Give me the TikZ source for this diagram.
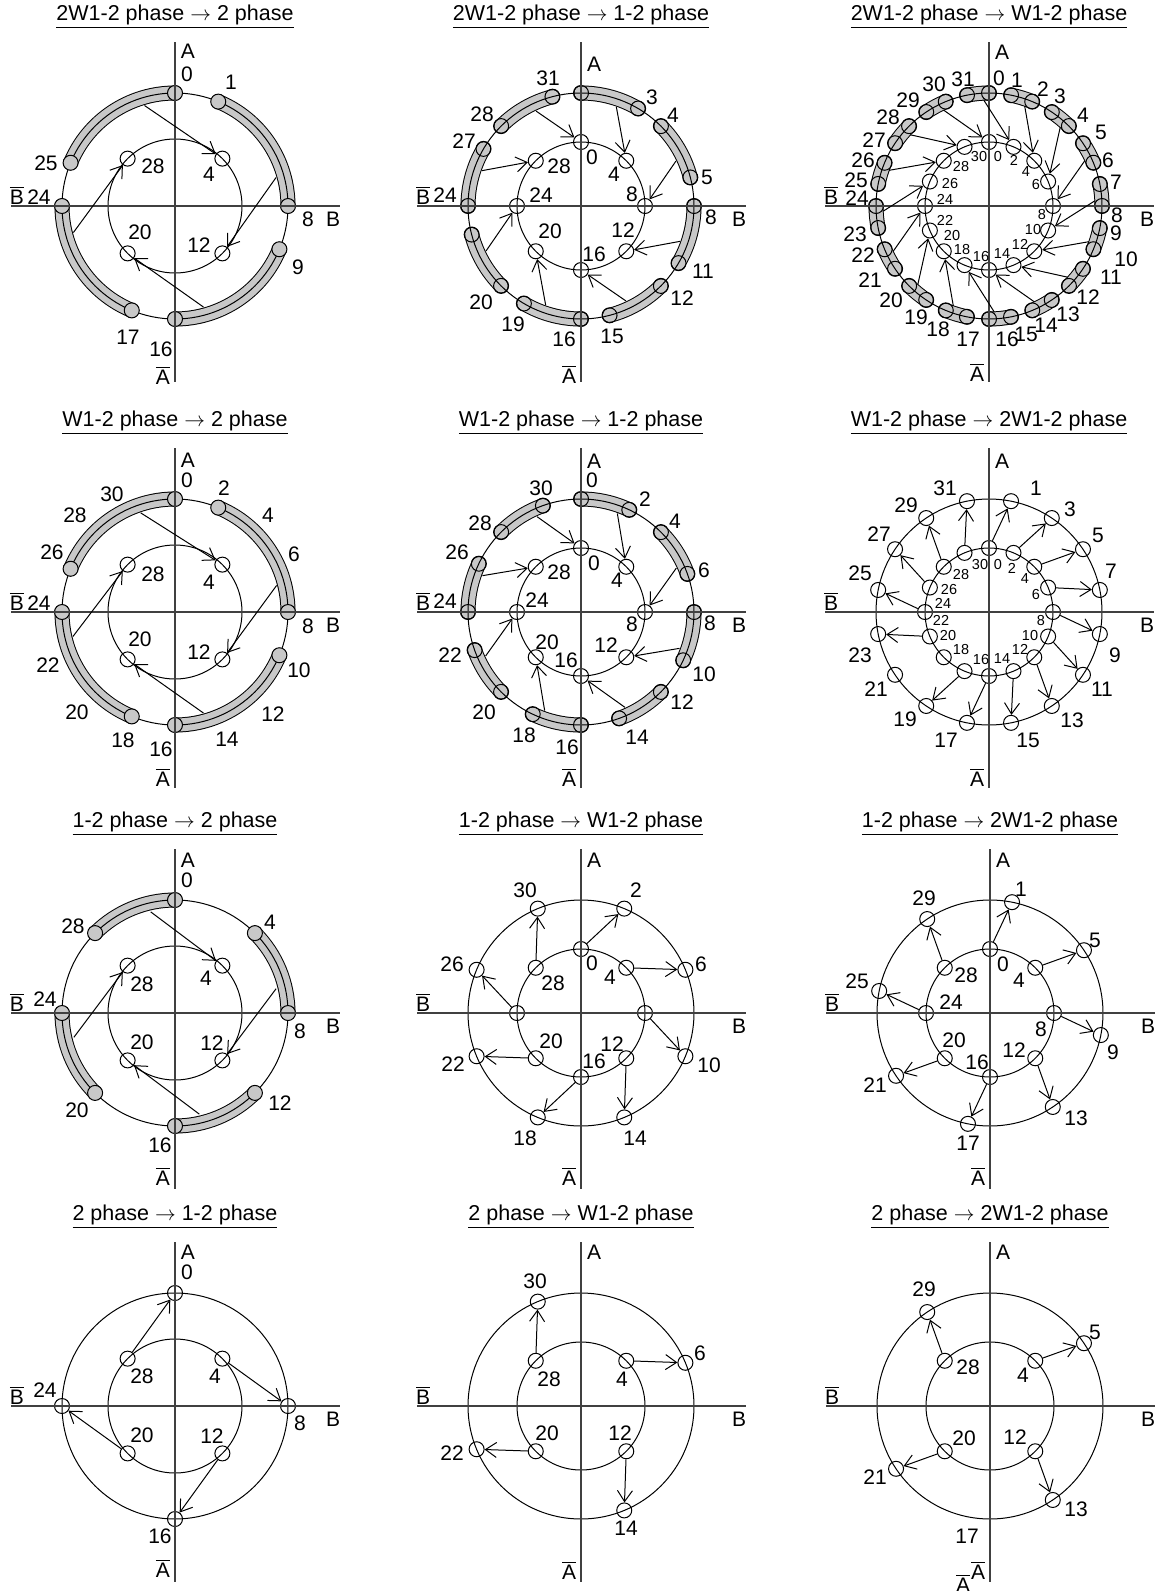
\documentclass[tikz,border=0pt]{standalone}
\usepackage{fontspec}
\setmainfont{Liberation Sans}
\usepackage{amsmath}
\usetikzlibrary{arrows.meta}
\definecolor{bandgray}{RGB}{200,200,200}
\tikzset{
  ring/.style={line width=1pt},
  axisline/.style={line width=1.1pt, black!75},
  stepdot/.style={circle, draw, line width=1pt, minimum size=15pt, inner sep=0pt},
  greydot/.style={stepdot, fill=bandgray},
  trans/.style={line width=1pt, -{Straight Barb[length=11pt, width=15pt]}},
  lab/.style={inner sep=0pt, font=\fontsize{21}{21}\selectfont},
  smalllab/.style={inner sep=0pt, font=\fontsize{14.5}{14.5}\selectfont},
  titlelab/.style={inner sep=0pt, font=\fontsize{21.5}{21.5}\selectfont},
}
% grey band on the outer ring, from step #1 to step #2
\newcommand\stepband[2]{%
  \draw[line width=15pt, line cap=round] ({11.25*(#1)-90}:113)
    arc[start angle={11.25*(#1)-90}, end angle={11.25*(#2)-90}, radius=113];
  \draw[line width=13pt, line cap=round, bandgray] ({11.25*(#1)-90}:113)
    arc[start angle={11.25*(#1)-90}, end angle={11.25*(#2)-90}, radius=113];
}
% outer and inner ring
\newcommand\steprings[1]{%
  \draw[ring] (0,0) circle[radius=113];
  \draw[ring] (0,0) circle[radius=#1];
}
% axes: #1 prefix, #2 y of A, #3 y of A bar
\newcommand\phaseaxes[3]{%
  \draw[axisline] (-164,0) -- (165,0);
  \draw[axisline] (0,-164) -- (0,176);
  \node[lab] (#1A) at (13,#2) {A};
  \node[lab] (#1An) at (-12,#3) {$\overline{\text{A}}$};
  \node[lab] (#1Bn) at (-158,-11) {$\overline{\text{B}}$};
  \node[lab] (#1B) at (158,13) {B};
}
\newcommand\phasetitle[2]{%
  \node[titlelab] (#1T) at (0,-189) {\underline{#2}};
}

\begin{document}
\begin{tikzpicture}[x=1pt, y=-1pt]
  \useasboundingbox (0,0) rectangle (1158,1591);

  % ---- 2W1-2 -> 2
  \begin{scope}[shift={(175,206)}]
    \phasetitle{p1}{2W1-2 phase $\rightarrow$ 2 phase}
    \foreach \a/\b in {26/32, 2/8, 10/16, 18/24} {\stepband{\a}{\b}}
    \steprings{67}
    \foreach \k in {0,2,8,10,16,18,24,26} \node[greydot] (p1o\k) at ({11.25*\k-90}:113) {};
    \foreach \k in {4,12,20,28} \node[stepdot] (p1i\k) at ({11.25*\k-90}:67) {};
    \phaseaxes{p1}{-155}{169}
    \foreach \s/\t in {30.5/4, 6.6/12, 14.6/20, 22.7/28} {
      \coordinate (p1s\t) at ({11.25*\s-90}:105);
      \draw[trans] (p1s\t) -- (p1i\t);
    }
    \foreach \t/\x/\y [count=\i] in {0/12/-132, 1/56/-124, 8/133/13, 9/123/61,
      16/-14/143, 17/-47/131, 24/-136/-9, 25/-129/-43,
      28/-22/-40, 4/34/-32, 12/24/39, 20/-35/26}
      \node[lab] (p1l\i) at (\x,\y) {\t};
  \end{scope}

  % ---- 2W1-2 -> 1-2
  \begin{scope}[shift={(581,206)}]
    \phasetitle{p2}{2W1-2 phase $\rightarrow$ 1-2 phase}
    \foreach \a/\b in {0/2.7, 4/6.7, 8/10.7, 12/14.7, 16/18.7, 20/22.7, 24/26.7, 28/30.7} {\stepband{\a}{\b}}
    \steprings{64}
    \foreach \a/\b [count=\j] in {0/2.7, 4/6.7, 8/10.7, 12/14.7, 16/18.7, 20/22.7, 24/26.7, 28/30.7} {
      \node[stepdot] (p2a\j) at ({11.25*\a-90}:113) {};
      \node[stepdot] (p2b\j) at ({11.25*\b-90}:113) {};
    }
    \foreach \k in {0,4,...,28} \node[stepdot] (p2i\k) at ({11.25*\k-90}:64) {};
    \phaseaxes{p2}{-142}{168}
    \foreach \s/\t in {29.75/0, 1.75/4, 5.75/8, 9.75/12, 13.75/16, 17.75/20, 21.75/24, 25.75/28} {
      \coordinate (p2s\t) at ({11.25*\s-90}:105);
      \draw[trans] (p2s\t) -- (p2i\t);
    }
    \foreach \t/\x/\y [count=\i] in {31/-33/-128, 3/71/-109, 4/92/-91, 5/126/-29,
      8/130/11, 11/122/65, 12/101/92, 15/31/130, 16/-17/133, 19/-68/118,
      20/-100/96, 24/-136/-11, 27/-117/-65, 28/-99/-92,
      0/11/-49, 4/33/-32, 8/51/-12, 12/42/24, 16/13/48, 20/-31/25, 24/-40/-11, 28/-22/-40}
      \node[lab] (p2l\i) at (\x,\y) {\t};
  \end{scope}

  % ---- 2W1-2 -> W1-2
  \begin{scope}[shift={(989,206)}]
    \phasetitle{p3}{2W1-2 phase $\rightarrow$ W1-2 phase}
    \foreach \a in {-1,1,...,29} {\stepband{\a}{\a+1}}
    \steprings{64}
    \foreach \k in {0,...,31} \node[stepdot] (p3o\k) at ({11.25*\k-90}:113) {};
    \foreach \k in {0,2,...,30} \node[stepdot] (p3i\k) at ({11.25*\k-90}:64) {};
    \phaseaxes{p3}{-154}{166}
    \foreach \j [evaluate=\j as \t using {int(mod(2*\j+2,32))}] in {0,...,15} {
      \coordinate (p3s\t) at ({11.25*(2*\j-0.25)-90}:106);
      \draw[trans] (p3s\t) -- (p3i\t);
    }
    \foreach \t/\x/\y [count=\i] in {31/-26/-127, 0/10/-128, 1/28/-126, 30/-55/-122,
      2/54/-117, 3/71/-110, 29/-81/-106, 28/-101/-89, 4/94/-91, 5/112/-74,
      27/-115/-66, 26/-126/-46, 6/119/-46, 25/-133/-26, 7/127/-24, 24/-132/-8,
      8/128/9, 9/127/27, 23/-134/28, 10/137/53, 22/-126/49, 11/122/71,
      21/-119/74, 12/99/91, 20/-98/94, 13/79/108, 19/-73/111, 14/57/119,
      18/-51/123, 15/37/128, 16/18/133, 17/-21/133}
      \node[lab] (p3l\i) at (\x,\y) {\t};
    \foreach \t/\x/\y [count=\i] in {30/-10/-49, 0/9/-49, 28/-28/-39, 2/25/-46,
      4/37/-34, 26/-39/-22, 6/47/-21, 24/-44/-7, 8/53/9, 22/-44/14,
      10/44/24, 20/-37/30, 12/31/38, 18/-27/44, 16/-8/51, 14/13/48}
      \node[smalllab] (p3m\i) at (\x,\y) {\t};
  \end{scope}

  % ---- W1-2 -> 2
  \begin{scope}[shift={(175,612)}]
    \phasetitle{p4}{W1-2 phase $\rightarrow$ 2 phase}
    \foreach \a/\b in {26/32, 2/8, 10/16, 18/24} {\stepband{\a}{\b}}
    \steprings{67}
    \foreach \k in {0,2,8,10,16,18,24,26} \node[greydot] (p4o\k) at ({11.25*\k-90}:113) {};
    \foreach \k in {4,12,20,28} \node[stepdot] (p4i\k) at ({11.25*\k-90}:67) {};
    \phaseaxes{p4}{-152}{165}
    \foreach \s/\t in {30.3/4, 6.7/12, 14.6/20, 22.8/28} {
      \coordinate (p4s\t) at ({11.25*\s-90}:105);
      \draw[trans] (p4s\t) -- (p4i\t);
    }
    \foreach \t/\x/\y [count=\i] in {0/12/-132, 2/49/-124, 30/-63/-118, 28/-100/-97,
      4/93/-97, 26/-123/-60, 6/119/-58, 24/-136/-9, 8/133/14, 10/124/58,
      22/-127/53, 12/98/102, 20/-98/100, 14/52/127, 18/-52/128, 16/-14/137,
      28/-22/-38, 4/34/-30, 12/24/40, 20/-35/27}
      \node[lab] (p4l\i) at (\x,\y) {\t};
  \end{scope}

  % ---- W1-2 -> 1-2
  \begin{scope}[shift={(581,612)}]
    \phasetitle{p5}{W1-2 phase $\rightarrow$ 1-2 phase}
    \foreach \a/\b in {0/2.25, 4/6.25, 8/10.25, 12/14.25, 16/18.25, 20/22.25, 24/26.25, 28/30.25} {\stepband{\a}{\b}}
    \steprings{64}
    \foreach \a/\b [count=\j] in {0/2.25, 4/6.25, 8/10.25, 12/14.25, 16/18.25, 20/22.25, 24/26.25, 28/30.25} {
      \node[stepdot] (p5a\j) at ({11.25*\a-90}:113) {};
      \node[stepdot] (p5b\j) at ({11.25*\b-90}:113) {};
    }
    \foreach \k in {0,4,...,28} \node[stepdot] (p5i\k) at ({11.25*\k-90}:64) {};
    \phaseaxes{p5}{-151}{165}
    \foreach \s/\t in {29.8/0, 1.8/4, 5.8/8, 9.8/12, 13.8/16, 17.8/20, 21.8/24, 25.8/28} {
      \coordinate (p5s\t) at ({11.25*\s-90}:105);
      \draw[trans] (p5s\t) -- (p5i\t);
    }
    \foreach \t/\x/\y [count=\i] in {0/11/-132, 30/-40/-124, 2/64/-113, 4/94/-91,
      28/-101/-89, 26/-124/-60, 6/123/-42, 24/-136/-11, 8/129/11, 22/-131/43,
      10/123/62, 12/101/90, 20/-97/100, 14/56/125, 18/-57/123, 16/-14/135,
      0/13/-49, 28/-22/-40, 4/36/-32, 24/-44/-12, 8/51/12, 12/25/33, 20/-34/30, 16/-15/48}
      \node[lab] (p5l\i) at (\x,\y) {\t};
  \end{scope}

  % ---- W1-2 -> 2W1-2
  \begin{scope}[shift={(989,612)}]
    \phasetitle{p6}{W1-2 phase $\rightarrow$ 2W1-2 phase}
    \steprings{64}
    \foreach \k in {1,3,...,31} \node[stepdot] (p6o\k) at ({11.25*\k-90}:113) {};
    \foreach \k in {0,2,...,30} \node[stepdot] (p6i\k) at ({11.25*\k-90}:64) {};
    \phaseaxes{p6}{-151}{165}
    \foreach \k [evaluate=\k as \t using {int(\k+1)}] in {0,2,4,6,8,10,12,14,16,18,22,24,26,28,30}
      \draw[trans] (p6i\k) -- (p6o\t);
    \foreach \t/\x/\y [count=\i] in {31/-44/-124, 1/47/-124, 29/-83/-107, 3/81/-103,
      27/-110/-78, 5/109/-77, 25/-129/-39, 7/122/-41, 9/126/43, 23/-129/43,
      21/-113/77, 11/113/77, 19/-84/107, 13/83/108, 17/-43/128, 15/39/128}
      \node[lab] (p6l\i) at (\x,\y) {\t};
    \foreach \t/\x/\y [count=\i] in {30/-9/-48, 0/9/-48, 28/-28/-38, 2/23/-44,
      4/36/-33, 26/-40/-23, 6/47/-18, 24/-46/-9, 22/-48/8, 8/52/8,
      20/-41/23, 10/41/23, 18/-28/37, 12/31/37, 16/-8/47, 14/13/47}
      \node[smalllab] (p6m\i) at (\x,\y) {\t};
  \end{scope}

  % ---- 1-2 -> 2
  \begin{scope}[shift={(175,1013)}]
    \phasetitle{p7}{1-2 phase $\rightarrow$ 2 phase}
    \foreach \a/\b in {28/32, 4/8, 12/16, 20/24} {\stepband{\a}{\b}}
    \steprings{67}
    \foreach \k in {0,4,...,28} \node[greydot] (p7o\k) at ({11.25*\k-90}:113) {};
    \foreach \k in {4,12,20,28} \node[stepdot] (p7i\k) at ({11.25*\k-90}:67) {};
    \phaseaxes{p7}{-153}{163}
    \foreach \s/\t in {30.8/4, 6.8/12, 14.8/20, 22.8/28} {
      \coordinate (p7s\t) at ({11.25*\s-90}:104);
      \draw[trans] (p7s\t) -- (p7i\t);
    }
    \foreach \t/\x/\y [count=\i] in {0/12/-133, 4/95/-91, 28/-102/-87, 24/-130/-14,
      8/125/18, 12/105/90, 20/-98/97, 16/-15/132,
      28/-33/-29, 4/31/-35, 12/37/30, 20/-33/29}
      \node[lab] (p7l\i) at (\x,\y) {\t};
  \end{scope}

  % ---- 1-2 -> W1-2
  \begin{scope}[shift={(581,1013)}]
    \phasetitle{p8}{1-2 phase $\rightarrow$ W1-2 phase}
    \steprings{64}
    \foreach \k in {2,6,...,30} \node[stepdot] (p8o\k) at ({11.25*\k-90}:113) {};
    \foreach \k in {0,4,...,28} \node[stepdot] (p8i\k) at ({11.25*\k-90}:64) {};
    \phaseaxes{p8}{-153}{163}
    \foreach \k [evaluate=\k as \t using {int(\k+2)}] in {0,4,...,28}
      \draw[trans] (p8i\k) -- (p8o\t);
    \foreach \t/\x/\y [count=\i] in {30/-56/-123, 2/55/-123, 26/-129/-49, 6/120/-49,
      0/11/-50, 4/29/-36, 28/-28/-30, 20/-30/28, 12/31/31, 16/13/48,
      22/-128/51, 10/128/52, 18/-56/125, 14/54/125}
      \node[lab] (p8l\i) at (\x,\y) {\t};
  \end{scope}

  % ---- 1-2 -> 2W1-2
  \begin{scope}[shift={(990,1013)}]
    \phasetitle{p9}{1-2 phase $\rightarrow$ 2W1-2 phase}
    \steprings{64}
    \foreach \k in {1,5,...,29} \node[stepdot] (p9o\k) at ({11.25*\k-90}:113) {};
    \foreach \k in {0,4,...,28} \node[stepdot] (p9i\k) at ({11.25*\k-90}:64) {};
    \phaseaxes{p9}{-153}{163}
    \foreach \k [evaluate=\k as \t using {int(\k+1)}] in {0,4,...,28}
      \draw[trans] (p9i\k) -- (p9o\t);
    \foreach \t/\x/\y [count=\i] in {29/-66/-115, 1/31/-124, 5/105/-73, 0/13/-49,
      4/29/-33, 28/-24/-38, 25/-133/-32, 24/-39/-11, 8/51/16, 9/123/39,
      20/-36/27, 12/24/37, 16/-13/49, 21/-115/72, 13/86/105, 17/-22/130}
      \node[lab] (p9l\i) at (\x,\y) {\t};
  \end{scope}

  % ---- 2 -> 1-2
  \begin{scope}[shift={(175,1406)}]
    \phasetitle{p10}{2 phase $\rightarrow$ 1-2 phase}
    \steprings{67}
    \foreach \k in {0,8,16,24} \node[stepdot] (p10o\k) at ({11.25*\k-90}:113) {};
    \foreach \k in {4,12,20,28} \node[stepdot] (p10i\k) at ({11.25*\k-90}:67) {};
    \phaseaxes{p10}{-154}{162}
    \foreach \k/\t in {28/0, 4/8, 12/16, 20/24}
      \draw[trans] (p10i\k) -- (p10o\t);
    \foreach \t/\x/\y [count=\i] in {0/12/-134, 28/-33/-30, 4/40/-30, 24/-130/-16,
      8/125/17, 20/-33/29, 12/37/30, 16/-15/130}
      \node[lab] (p10l\i) at (\x,\y) {\t};
  \end{scope}

  % ---- 2 -> W1-2
  \begin{scope}[shift={(581,1406)}]
    \phasetitle{p11}{2 phase $\rightarrow$ W1-2 phase}
    \steprings{64}
    \foreach \k in {6,14,22,30} \node[stepdot] (p11o\k) at ({11.25*\k-90}:113) {};
    \foreach \k in {4,12,20,28} \node[stepdot] (p11i\k) at ({11.25*\k-90}:64) {};
    \phaseaxes{p11}{-154}{164}
    \foreach \k [evaluate=\k as \t using {int(\k+2)}] in {4,12,20,28}
      \draw[trans] (p11i\k) -- (p11o\t);
    \foreach \t/\x/\y [count=\i] in {30/-46/-125, 6/119/-53, 28/-32/-27, 4/41/-27,
      20/-34/27, 12/39/27, 22/-129/47, 14/45/122}
      \node[lab] (p11l\i) at (\x,\y) {\t};
  \end{scope}

  % ---- 2 -> 2W1-2
  \begin{scope}[shift={(990,1406)}]
    \phasetitle{p12}{2 phase $\rightarrow$ 2W1-2 phase}
    \steprings{64}
    \foreach \k in {5,13,21,29} \node[stepdot] (p12o\k) at ({11.25*\k-90}:113) {};
    \foreach \k in {4,12,20,28} \node[stepdot] (p12i\k) at ({11.25*\k-90}:64) {};
    \phaseaxes{p12}{-154}{164}
    \node[lab] (p12An2) at (-27,177) {$\overline{\text{A}}$};
    \foreach \k [evaluate=\k as \t using {int(\k+1)}] in {4,12,20,28}
      \draw[trans] (p12i\k) -- (p12o\t);
    \foreach \t/\x/\y [count=\i] in {29/-66/-117, 5/105/-74, 28/-22/-39, 4/33/-31,
      20/-26/32, 12/25/31, 21/-115/71, 13/86/103, 17/-23/130}
      \node[lab] (p12l\i) at (\x,\y) {\t};
  \end{scope}
\end{tikzpicture}
\end{document}
